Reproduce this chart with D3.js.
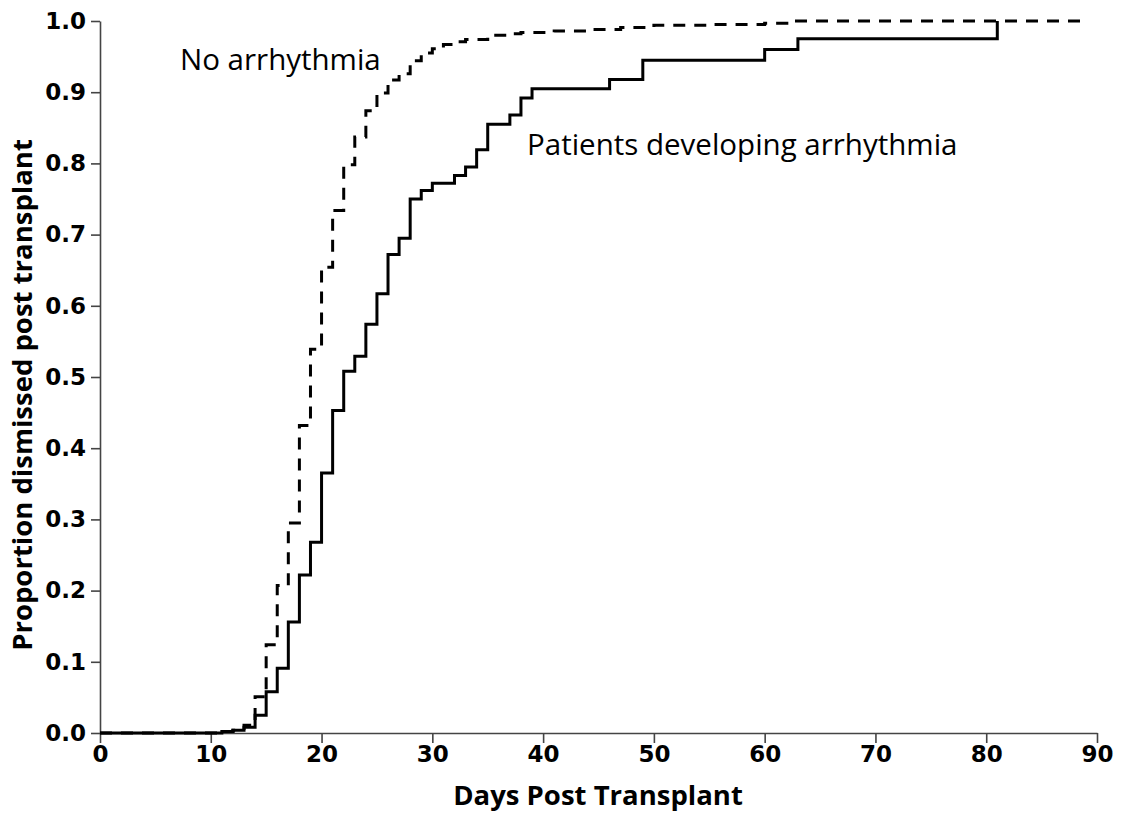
<!DOCTYPE html>
<html>
<head>
<meta charset="utf-8">
<script src="https://d3js.org/d3.v7.min.js"></script>
<style>
  body { margin: 0; background: #fff; }
  .tick text { font-family: "DejaVu Sans", Verdana, sans-serif; font-weight: bold; font-size: 23px; fill: #000; }
  .axis path, .axis line { stroke: #444; stroke-width: 1.6px; }
  .title { font-family: "Open Sans", "DejaVu Sans", sans-serif; font-weight: bold; font-size: 27.5px; fill: #000; }
  .note { font-family: "Open Sans", "Noto Sans", sans-serif; font-size: 29.5px; fill: #000; }
</style>
</head>
<body>
<svg id="chart" width="1127" height="814"></svg>
<script>
// patients developing arrhythmia (solid)
var arrDays = [0, 11, 12, 13, 14, 15, 16, 17, 18, 19, 20, 21, 22, 23, 24, 25, 26, 27, 28, 29, 30, 32, 33, 34, 35, 37, 38, 39, 46, 49, 60, 63, 81];
var arrProp = [0, 0.002, 0.004, 0.008, 0.025, 0.058, 0.091, 0.156, 0.222, 0.268, 0.365, 0.453, 0.508, 0.529, 0.574, 0.617, 0.672, 0.695, 0.75, 0.762, 0.772, 0.783, 0.795, 0.819, 0.855, 0.868, 0.892, 0.905, 0.918, 0.945, 0.96, 0.975, 1.0];

// no arrhythmia (dashed)
var noArrDays = [0, 11, 12, 13, 14, 15, 16, 17, 18, 19, 20, 21, 22, 23, 24, 25, 26, 27, 28, 29, 30, 31, 32, 33, 35, 37, 38, 41, 44, 47, 50, 55, 60, 62, 89];
var noArrProp = [0, 0.002, 0.004, 0.011, 0.051, 0.124, 0.207, 0.295, 0.432, 0.539, 0.654, 0.734, 0.798, 0.837, 0.874, 0.899, 0.917, 0.926, 0.944, 0.955, 0.961, 0.967, 0.971, 0.974, 0.980, 0.982, 0.984, 0.986, 0.988, 0.991, 0.994, 0.995, 0.997, 1.0, 1.0];

var xTicks = [0, 10, 20, 30, 40, 50, 60, 70, 80, 90];
var yTicks = [0, 0.1, 0.2, 0.3, 0.4, 0.5, 0.6, 0.7, 0.8, 0.9, 1.0];

var svg = d3.select("#chart");

var x = d3.scaleLinear().domain([0, 90]).range([100, 1097]);
var y = d3.scaleLinear().domain([0, 1]).range([733, 21]);

// axes
svg.append("g")
  .attr("class", "axis")
  .attr("transform", "translate(0,733)")
  .call(d3.axisBottom(x).tickValues(xTicks).tickSize(10).tickSizeOuter(0).tickPadding(3).tickFormat(d3.format("d")));

svg.append("g")
  .attr("class", "axis")
  .attr("transform", "translate(100,0)")
  .call(d3.axisLeft(y).tickValues(yTicks).tickSize(9).tickSizeOuter(0).tickPadding(5).tickFormat(d3.format(".1f")));

// step lines
var line = d3.line()
  .x(function(d) { return x(d[0]); })
  .y(function(d) { return y(d[1]); })
  .curve(d3.curveStepAfter);

svg.append("path")
  .datum(d3.zip(noArrDays, noArrProp))
  .attr("fill", "none")
  .attr("stroke", "#000")
  .attr("stroke-width", 3)
  .attr("stroke-dasharray", "12,9")
  .attr("d", line);

svg.append("path")
  .datum(d3.zip(arrDays, arrProp))
  .attr("fill", "none")
  .attr("stroke", "#000")
  .attr("stroke-width", 3)
  .attr("d", line);

// axis titles
svg.append("text")
  .attr("class", "title")
  .attr("x", 598)
  .attr("y", 805)
  .attr("text-anchor", "middle")
  .text("Days Post Transplant");

svg.append("text")
  .attr("class", "title")
  .attr("transform", "translate(32,395) rotate(-90)")
  .attr("text-anchor", "middle")
  .text("Proportion dismissed post transplant");

// labels
svg.append("text").attr("class", "note").attr("x", 180).attr("y", 70).text("No arrhythmia");
svg.append("text").attr("class", "note").attr("x", 527).attr("y", 155).text("Patients developing arrhythmia");
</script>
</body>
</html>
